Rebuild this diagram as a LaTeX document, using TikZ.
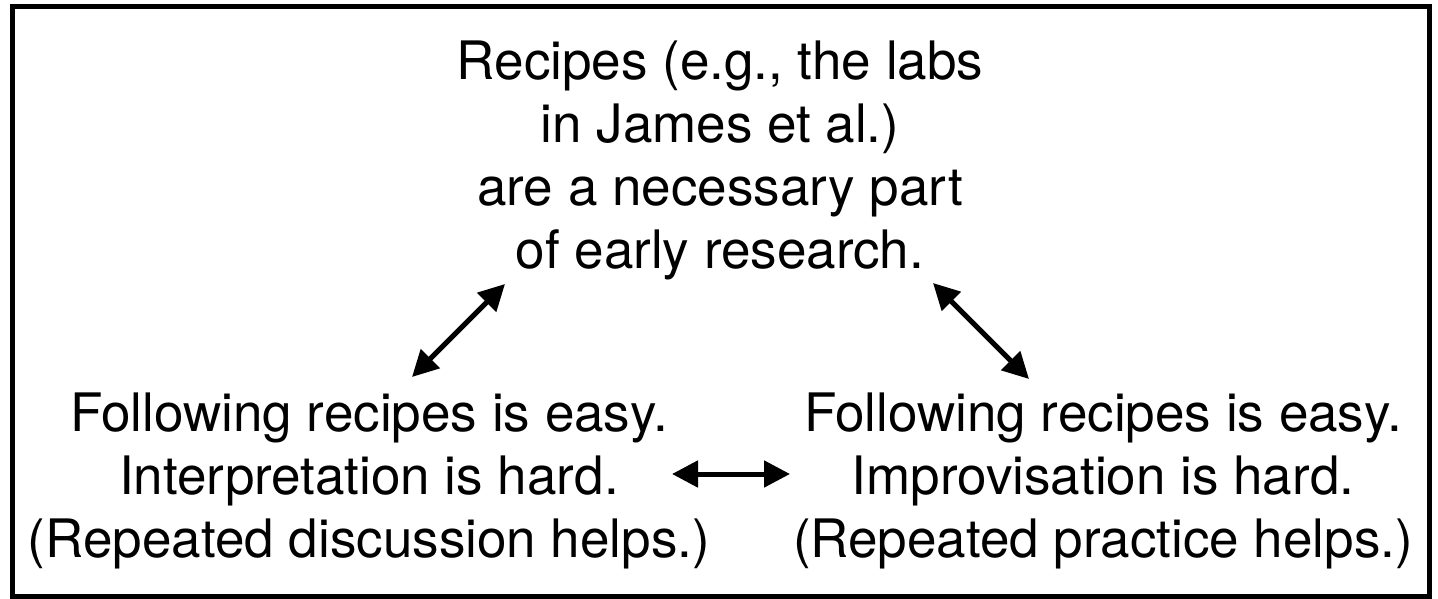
\documentclass[tikz,border=0pt]{standalone}
\usepackage{fontspec}
\setmainfont{TeX Gyre Heros}
\usepackage{tikz}
\usetikzlibrary{arrows.meta}

\begin{document}
\begin{tikzpicture}[x=1pt,y=-1pt,
  txt/.style={align=center,font=\fontsize{53}{63}\selectfont},
  dbl/.style={line width=5pt,{Triangle[length=26pt,width=26pt]}-{Triangle[length=26pt,width=26pt]}}]
\useasboundingbox (0,0) rectangle (1438,599);
\draw[line width=5pt] (12,6.5) rectangle (1429.5,596);
% the three statements
\node[txt] (recipes) at (720,160) {Recipes (e.g., the labs\\in James et al.)\\are a necessary part\\of early research.};
\node[txt] (interp) at (369,481) {Following recipes is easy.\\Interpretation is hard.\\(Repeated discussion helps.)};
\node[txt] (improv) at (1103,481) {Following recipes is easy.\\Improvisation is hard.\\(Repeated practice helps.)};
% arrow ends
\coordinate (a1) at (412,377);
\coordinate (a2) at (505,284);
\coordinate (b1) at (933,283);
\coordinate (b2) at (1029,379);
\coordinate (c1) at (672,474);
\coordinate (c2) at (790,474);
\draw[dbl] (a1) -- (a2);
\draw[dbl] (b1) -- (b2);
\draw[dbl] (c1) -- (c2);
\end{tikzpicture}
\end{document}
